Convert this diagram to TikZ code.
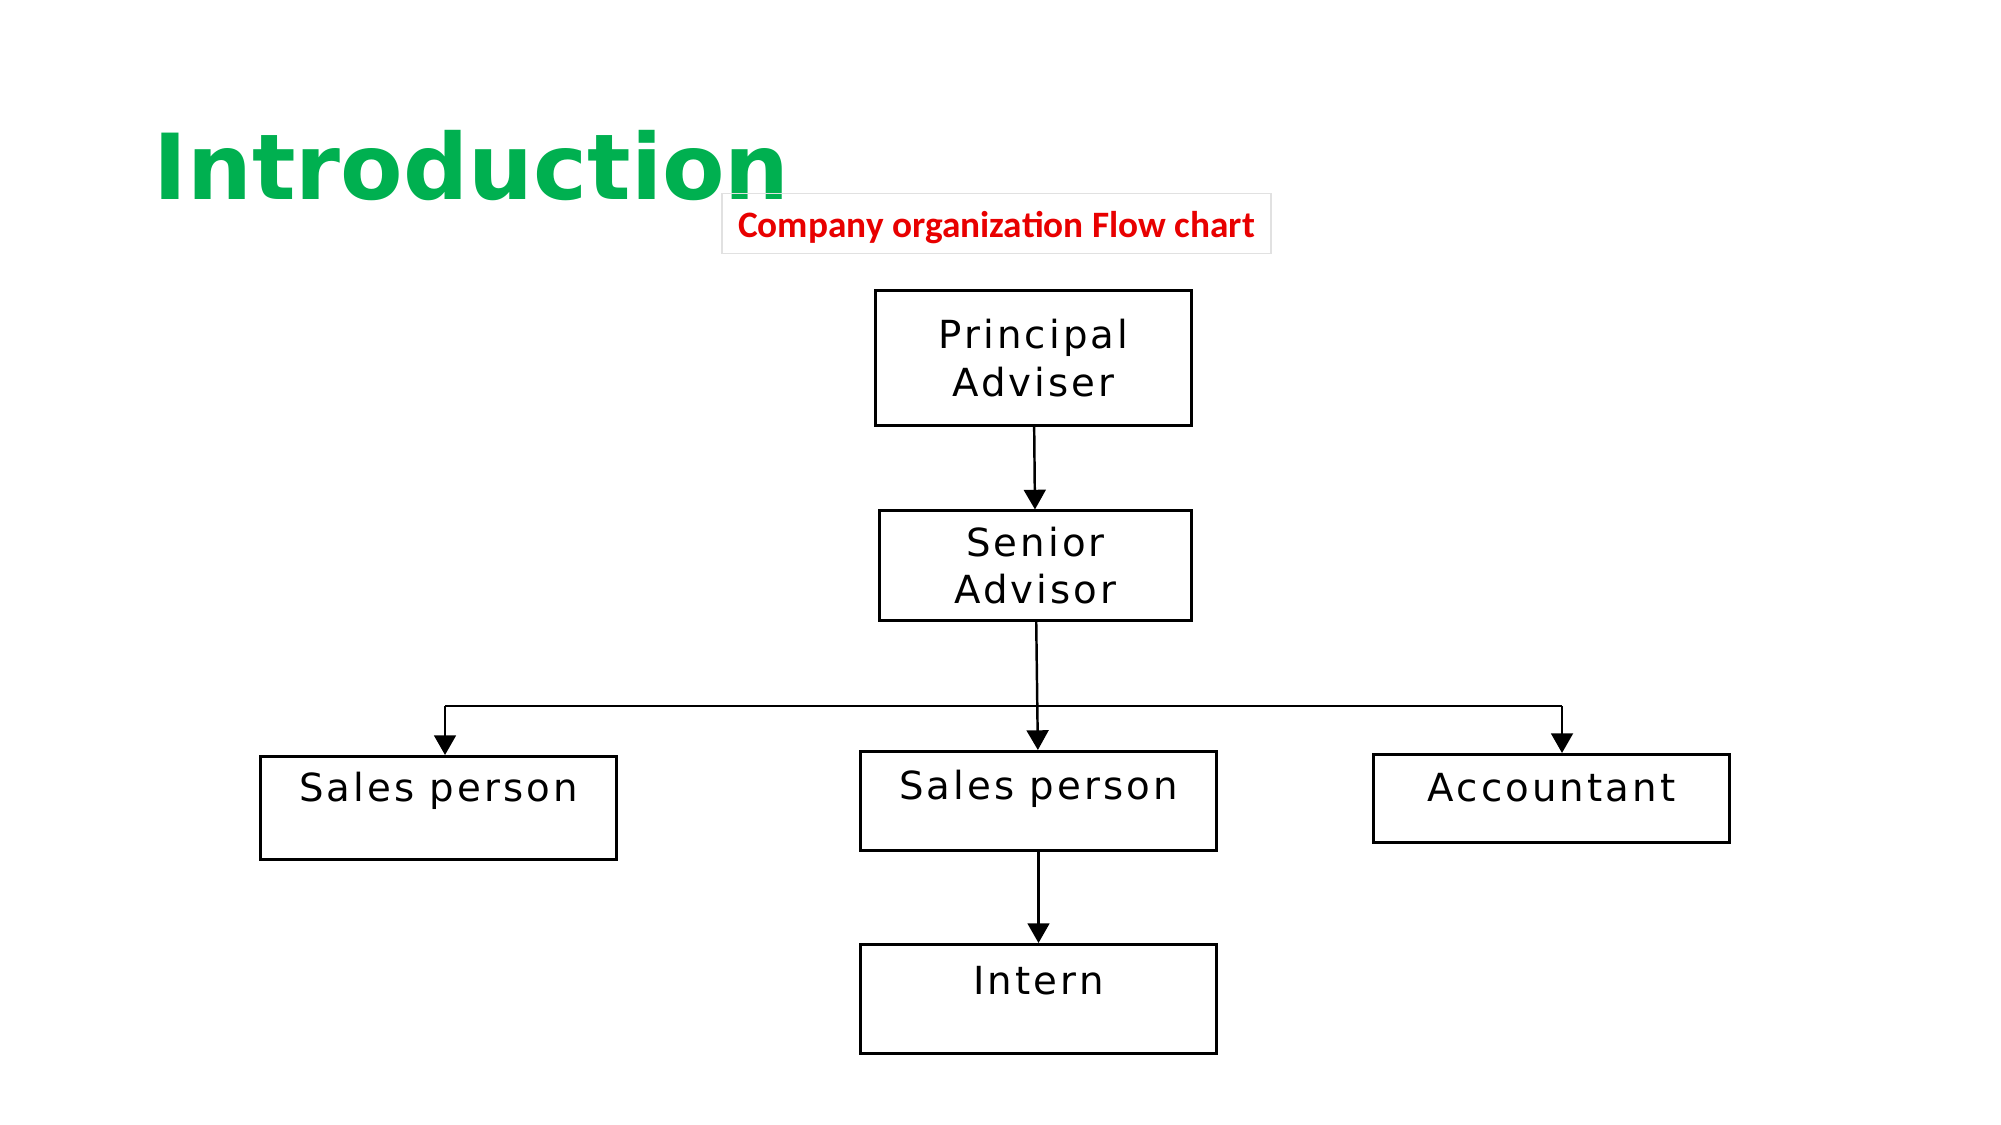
\documentclass[tikz,border=0pt]{standalone}
\usepackage{fontspec}
\setmainfont{DejaVu Sans}
\newfontfamily\titlefont{DejaVu Sans}
\newfontfamily\capfont{Carlito}
\newfontfamily\boxfont[LetterSpace=8]{DejaVu Sans}
\definecolor{titlegreen}{RGB}{0,176,80}
\definecolor{capred}{RGB}{232,0,0}
\definecolor{capframe}{RGB}{225,225,225}
\usetikzlibrary{arrows.meta,positioning}

\tikzset{
  orgbox/.style={draw, line width=0.85pt, inner sep=0pt, minimum width=3.55cm,
    font=\boxfont\fontsize{11}{13.5}\selectfont, align=center},
  link/.style={line width=0.7pt, -{Triangle[length=5.6pt,width=6.2pt]}}
}

\begin{document}
\begin{tikzpicture}[x=0.01cm, y=-0.01cm]
  \useasboundingbox (0,0) rectangle (2001,1125);

  % Heading
  \node[anchor=base west, inner sep=0pt, text=titlegreen,
    font=\titlefont\bfseries\fontsize{25.9}{30}\selectfont] (title) at (153,200) {Introduction};

  % Caption
  \node[draw=capframe, line width=0.4pt, anchor=north, inner ysep=0pt, minimum width=5.49cm,
    text height=0.44cm, text depth=0.16cm,
    text=capred, font=\capfont\bfseries\fontsize{10.6}{12}\selectfont] (caption) at (996.5,193) {Company organization Flow chart};

  % Boxes
  \node[orgbox, minimum width=3.15cm, minimum height=1.34cm] (principal) at (1033.5,358) {Principal\\Adviser};
  \node[orgbox, minimum width=3.11cm, minimum height=1.09cm] (senior) at (1035.5,565.5) {Senior\\Advisor};
  \node[orgbox, anchor=north, text height=0.45cm, text depth=0.58cm] (salesleft) at (438.5,755) {Sales person};
  \node[orgbox, anchor=north, text height=0.48cm, text depth=0.51cm] (salesmid) at (1038.5,750) {Sales person};
  \node[orgbox, anchor=north, text height=0.47cm, text depth=0.41cm] (accountant) at (1551.5,753) {Accountant};
  \node[orgbox, anchor=north, text height=0.50cm, text depth=0.59cm] (intern) at (1038.5,943) {Intern};

  % Connectors
  \coordinate (busleft) at (445,706);
  \coordinate (busright) at (1562,706);
  \draw[link] (principal) -- (senior);
  \draw[link] (senior) -- (salesmid);
  \draw[line width=0.7pt] (busleft) -- (busright);
  \draw[link] (busleft) -- (busleft |- salesleft.north);
  \draw[link] (busright) -- (busright |- accountant.north);
  \draw[link] (salesmid) -- (intern);
\end{tikzpicture}
\end{document}
